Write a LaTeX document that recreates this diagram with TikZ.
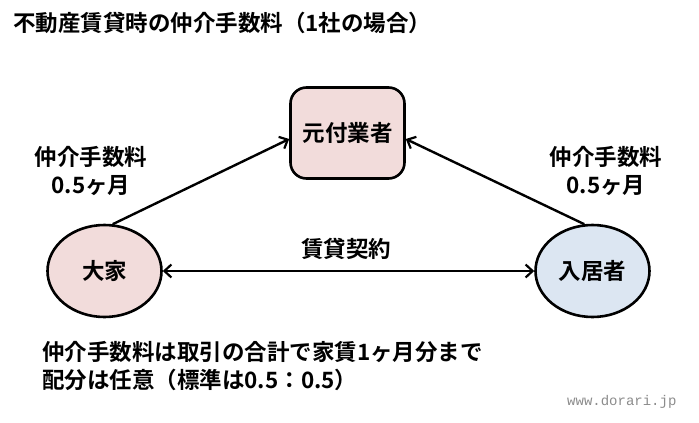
\documentclass[tikz,border=0pt]{standalone}
\usepackage{fontspec}
\newfontfamily\jp{Noto Sans CJK JP}[BoldFont={Noto Sans CJK JP Bold}]
\setmonofont{Liberation Mono}
\usetikzlibrary{arrows.meta,shapes.geometric}
\definecolor{pinkfill}{HTML}{F2DCDB}
\definecolor{bluefill}{HTML}{DCE6F2}
\begin{document}
\begin{tikzpicture}[x=1pt,y=-1pt,
  jptext/.style={font=\jp\bfseries\fontsize{22.5}{28}\selectfont, inner sep=0pt},
  shapeline/.style={draw=black, line width=2.6pt},
  conn/.style={line width=2.4pt, -{Straight Barb[length=7pt,width=13pt,line width=2.2pt]}},
  conn2/.style={line width=2.4pt, {Straight Barb[length=7pt,width=13pt,line width=2.2pt]}-{Straight Barb[length=7pt,width=13pt,line width=2.2pt]}}
]
\useasboundingbox (0,0) rectangle (699,423);
\fill[white] (0,0) rectangle (699,423);
\node[jptext, anchor=west] (title) at (13,23) {不動産賃貸時の仲介手数料（1社の場合）};
\node[shapeline, fill=pinkfill, rounded corners=16pt, minimum width=114pt, minimum height=91pt, jptext] (moto) at (347.5,133) {元付業者};
\node[shapeline, fill=pinkfill, ellipse, minimum width=114pt, minimum height=92pt, jptext] (oya) at (104.5,271) {大家};
\node[shapeline, fill=bluefill, ellipse, minimum width=114pt, minimum height=92pt, jptext] (kyo) at (592.5,271) {入居者};
\draw[conn] (oya.80) -- (moto.west |- 0,139);
\draw[conn] (kyo.100) -- (moto.east |- 0,139);
\draw[conn2] (oya.east) -- (kyo.west);
\node[jptext] (keiyaku) at (346,249) {賃貸契約};
\node[jptext, align=center] (lfee) at (91,171) {仲介手数料\\0.5ヶ月};
\node[jptext, align=center] (rfee) at (606,171) {仲介手数料\\0.5ヶ月};
\node[jptext, anchor=west, align=left] (note) at (42,366) {仲介手数料は取引の合計で家賃1ヶ月分まで\\配分は任意（標準は0.5：0.5）};
\node[font=\ttfamily\fontsize{14}{16}\selectfont, text=black!45, anchor=west, inner sep=0pt] (url) at (567,402) {www.dorari.jp};
\end{tikzpicture}
\end{document}
